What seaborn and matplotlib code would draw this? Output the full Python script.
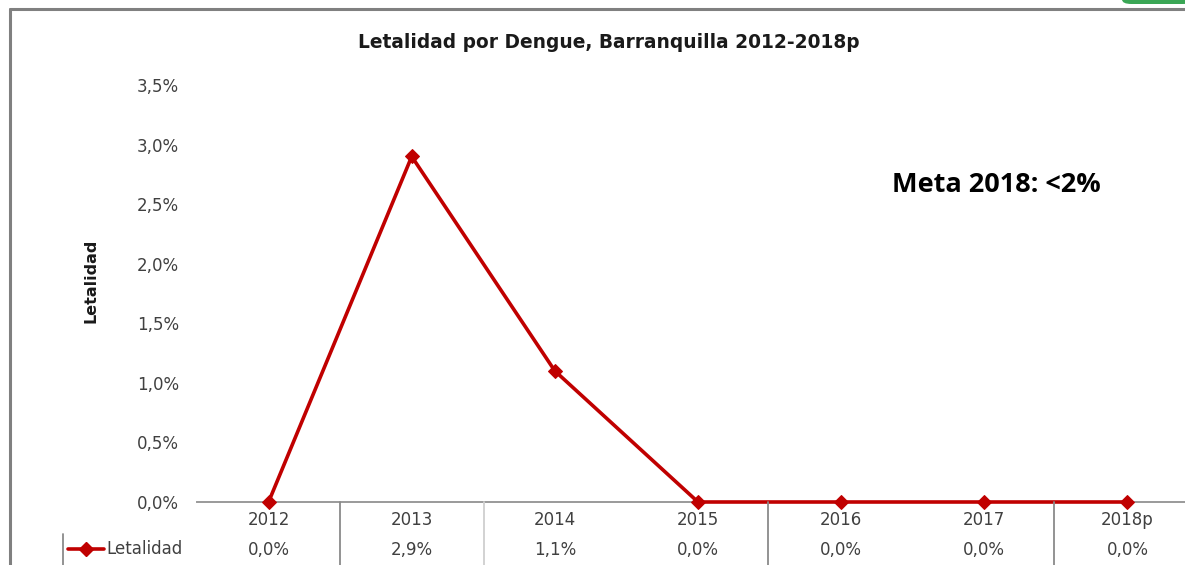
import numpy as np
import pandas as pd
import matplotlib
matplotlib.use("Agg")
import matplotlib.pyplot as plt
from matplotlib.patches import FancyBboxPatch
import seaborn as sns

# ---- data ----
years = ["2012", "2013", "2014", "2015", "2016", "2017", "2018p"]
letalidad = [0.0, 2.9, 1.1, 0.0, 0.0, 0.0, 0.0]
series_name = "Letalidad"
title = "Letalidad por Dengue, Barranquilla 2012-2018p"
meta_text = "Meta 2018: <2%"
yticks = [0.0, 0.5, 1.0, 1.5, 2.0, 2.5, 3.0, 3.5]

sns.set_theme(style="white")
plt.rcParams["font.family"] = ["DejaVu Sans"]

W, H = 1185, 565
fig = plt.figure(figsize=(W / 100, H / 100), dpi=100)
fig.patch.set_facecolor("white")

def fx(px):
    return px / W

def fy(py):
    return 1 - py / H

ax_left, ax_right = 197, 1199
ax_bottom, ax_top = 502, 85
ax = fig.add_axes([fx(ax_left), fy(ax_bottom), fx(ax_right - ax_left), (ax_bottom - ax_top) / H])
ax.set_facecolor("none")

df = pd.DataFrame({"pos": np.arange(len(years)), "val": letalidad})
red = "#C00000"
sns.lineplot(data=df, x="pos", y="val", ax=ax, color=red, linewidth=2.6,
             marker="D", markersize=7, markeredgecolor=red, clip_on=False, zorder=5)

txtcol = "#404040"
fs = 12
ax.set_xlim(-0.5, len(years) - 0.5)
ax.set_ylim(0, 3.5)
ax.set_yticks(yticks)
ax.set_yticklabels([f"{v:.1f}%".replace(".", ",") for v in yticks], fontsize=fs, color=txtcol)
ax.tick_params(axis="y", length=0, pad=13)
ax.set_xticks([])
ax.set_xlabel("")
ax.set_ylabel("")
for s in ["top", "right", "left"]:
    ax.spines[s].set_visible(False)
ax.spines["bottom"].set_color("#9a9a9a")
ax.spines["bottom"].set_linewidth(1.4)

# Data table rows
for i, (yr, v) in enumerate(zip(years, letalidad)):
    ax.text(i, -0.148, yr, ha="center", va="center", fontsize=fs, color=txtcol,
            transform=ax.transData, clip_on=False)
    ax.text(i, -0.40, f"{v:.1f}%".replace(".", ","), ha="center", va="center", fontsize=fs,
            color=txtcol, transform=ax.transData, clip_on=False)

# table separators (visible ones)
for px, col in [(340, "#8a8a8a"), (484, "#cfcfcf"), (768, "#8a8a8a"), (1054, "#8a8a8a")]:
    fig.add_artist(plt.Line2D([fx(px), fx(px)], [fy(502), fy(565)], color=col, lw=1.3))
fig.add_artist(plt.Line2D([fx(63), fx(63)], [fy(534), fy(565)], color="#8a8a8a", lw=1.3))

# legend key in table
fig.add_artist(plt.Line2D([fx(68), fx(104)], [fy(549), fy(549)], color=red, lw=2.6))
fig.add_artist(plt.Line2D([fx(86)], [fy(549)], color=red, marker="D", markersize=7, lw=0))
fig.text(fx(106), fy(549), series_name, ha="left", va="center", fontsize=fs, color=txtcol)

# titles / labels
fig.text(fx(609), fy(43), title, ha="center", va="center", fontsize=13.4,
         fontweight="bold", color="#1a1a1a")
fig.text(fx(91), fy(281), series_name, ha="center", va="center", rotation=90,
         fontsize=11.5, fontweight="bold", color="#1a1a1a")
fig.text(fx(996), fy(185), meta_text, ha="center", va="center", fontsize=19.5,
         fontweight="bold", color="black", family=["Open Sans", "DejaVu Sans"])

# chart frame (top and left borders)
fig.add_artist(plt.Line2D([fx(10), fx(1185)], [fy(9), fy(9)], color="#808080", lw=2.2))
fig.add_artist(plt.Line2D([fx(10), fx(10)], [fy(9), fy(565)], color="#808080", lw=2.2))

# small green element at top right
fig.add_artist(FancyBboxPatch((fx(1122), fy(4)), fx(70), 0.02,
                              boxstyle="round,pad=0,rounding_size=0.008",
                              facecolor="#3aa655", edgecolor="none", transform=fig.transFigure))

fig.savefig("out.png", dpi=100)
